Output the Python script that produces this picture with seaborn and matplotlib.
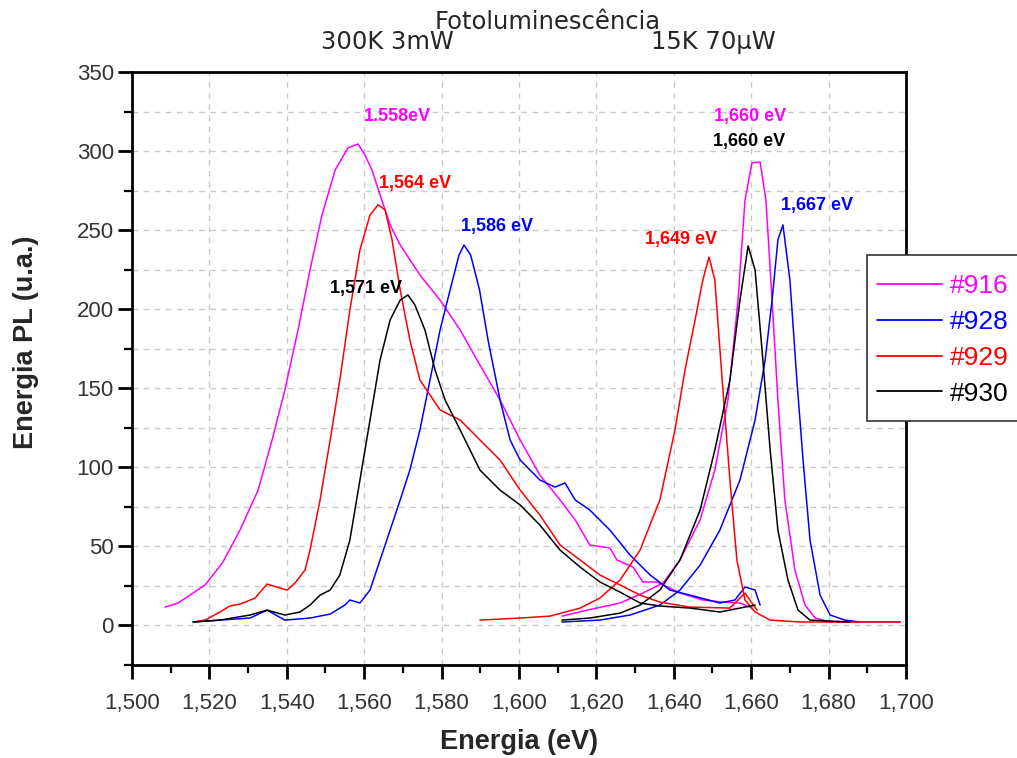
import numpy as np
import pandas as pd
import matplotlib
matplotlib.use("Agg")
import matplotlib.pyplot as plt
from matplotlib.lines import Line2D
from matplotlib.patches import Rectangle
from matplotlib.ticker import MultipleLocator, FuncFormatter
import seaborn as sns

# ---------------- data ----------------
samples = ["#916", "#928", "#929", "#930"]
colors = ["#ff00ff", "#0000ff", "#ff0000", "#000000"]

# 300 K, 3 mW
e916_300K = [1.5085, 1.5119, 1.5189, 1.5235, 1.5279, 1.5326, 1.5362, 1.5395, 1.5429, 1.5460, 1.5491,
             1.5525, 1.5558, 1.5584, 1.5602, 1.5620, 1.5641, 1.5667, 1.5693, 1.5744, 1.5796, 1.5848,
             1.5899, 1.5951, 1.6003, 1.6054, 1.6106, 1.6145, 1.6183, 1.6235, 1.6253, 1.6295, 1.6320,
             1.6357, 1.6416, 1.6475, 1.6527, 1.6571, 1.6602]
i916_300K = [11.6, 14.2, 25.6, 40.1, 60.3, 85.6, 117.3, 148.9, 186.8, 224.8, 259.6,
             288.1, 302.0, 304.5, 297.5, 288.1, 272.3, 253.3, 240.6, 221.6, 205.8, 186.8,
             164.7, 142.6, 117.3, 95.1, 79.4, 66.8, 50.9, 49.0, 41.4, 36.9, 27.5,
             27.5, 20.5, 16.1, 14.8, 14.2, 11.0]

e928_300K = [1.5158, 1.5227, 1.5305, 1.5349, 1.5395, 1.5460, 1.5512, 1.5550, 1.5563, 1.5589, 1.5615,
             1.5641, 1.5667, 1.5693, 1.5718, 1.5744, 1.5770, 1.5796, 1.5822, 1.5845, 1.5858, 1.5875,
             1.5898, 1.5920, 1.5951, 1.5977, 1.6003, 1.6054, 1.6093, 1.6119, 1.6145, 1.6183, 1.6235,
             1.6287, 1.6339, 1.6390, 1.6442, 1.6519, 1.6558, 1.6584, 1.6610, 1.6623]
i928_300K = [2.2, 3.4, 4.7, 9.7, 3.4, 4.7, 7.2, 12.9, 16.1, 14.2, 22.4,
             41.4, 60.3, 79.4, 98.3, 123.6, 155.2, 186.8, 212.2, 234.3, 240.6, 234.3,
             212.2, 180.5, 142.6, 117.3, 104.6, 92.0, 87.5, 90.1, 79.4, 73.0, 60.3,
             44.5, 31.9, 22.4, 19.2, 14.2, 16.1, 24.3, 22.4, 12.9]

e929_300K = [1.5158, 1.5189, 1.5227, 1.5253, 1.5279, 1.5318, 1.5349, 1.5382, 1.5401, 1.5421, 1.5447,
             1.5460, 1.5486, 1.5512, 1.5537, 1.5563, 1.5589, 1.5615, 1.5636, 1.5654, 1.5672, 1.5693,
             1.5718, 1.5744, 1.5796, 1.5848, 1.5899, 1.5951, 1.6003, 1.6054, 1.6106, 1.6158, 1.6209,
             1.6261, 1.6313, 1.6364, 1.6442, 1.6545, 1.6584, 1.6615]
i929_300K = [2.2, 3.4, 8.5, 12.3, 13.5, 17.3, 26.2, 23.7, 22.4, 26.8, 35.0,
             47.7, 79.4, 117.3, 155.2, 199.5, 237.5, 259.6, 266.0, 262.8, 243.8, 212.2,
             180.5, 155.2, 136.3, 129.9, 117.3, 104.6, 85.6, 69.8, 50.9, 41.4, 31.9,
             25.6, 19.2, 14.8, 11.6, 11.0, 20.5, 9.7]

e930_300K = [1.5158, 1.5227, 1.5305, 1.5349, 1.5395, 1.5434, 1.5460, 1.5486, 1.5512, 1.5537, 1.5563,
             1.5589, 1.5615, 1.5641, 1.5667, 1.5693, 1.5713, 1.5731, 1.5757, 1.5783, 1.5809, 1.5848,
             1.5899, 1.5951, 1.6003, 1.6054, 1.6106, 1.6158, 1.6209, 1.6261, 1.6313, 1.6364, 1.6442,
             1.6519, 1.6571, 1.6610]
i930_300K = [2.2, 3.4, 6.6, 9.7, 6.6, 8.5, 12.9, 19.2, 22.4, 31.9, 54.0,
             92.0, 129.9, 167.9, 193.2, 205.8, 209.0, 202.7, 186.8, 161.6, 142.6, 123.6,
             98.3, 85.6, 76.2, 63.5, 47.7, 36.9, 27.5, 21.1, 14.2, 12.3, 11.0,
             8.5, 11.0, 12.9]

# 15 K, 70 uW
e916_15K = [1.6111, 1.6176, 1.6261, 1.6320, 1.6372, 1.6416, 1.6468, 1.6506, 1.6540, 1.6566, 1.6584,
            1.6602, 1.6623, 1.6638, 1.6654, 1.6669, 1.6687, 1.6713, 1.6739, 1.6765, 1.6804, 1.6985]
i916_15K = [5.9, 9.7, 14.2, 20.5, 26.8, 41.4, 66.8, 98.3, 142.6, 205.8, 269.1,
            292.5, 293.1, 269.1, 205.8, 142.6, 79.4, 35.0, 12.9, 4.7, 2.2, 2.2]

e928_15K = [1.6111, 1.6209, 1.6287, 1.6364, 1.6416, 1.6468, 1.6519, 1.6571, 1.6610, 1.6636, 1.6654,
            1.6669, 1.6682, 1.6700, 1.6718, 1.6734, 1.6752, 1.6778, 1.6804, 1.6842, 1.6881]
i928_15K = [2.2, 3.4, 6.6, 12.9, 22.4, 38.2, 60.3, 92.0, 129.9, 167.9, 205.8,
            243.8, 253.3, 218.5, 155.2, 104.6, 54.0, 19.2, 6.6, 3.4, 2.2]

e929_15K = [1.5899, 1.6003, 1.6080, 1.6158, 1.6209, 1.6261, 1.6313, 1.6364, 1.6403, 1.6429, 1.6455,
            1.6475, 1.6491, 1.6506, 1.6525, 1.6545, 1.6563, 1.6584, 1.6610, 1.6649, 1.6726, 1.6985]
i929_15K = [3.4, 4.7, 5.9, 11.0, 17.3, 28.7, 47.7, 79.4, 123.6, 161.6, 193.2,
            218.5, 233.0, 218.5, 155.2, 92.0, 41.4, 16.1, 8.5, 3.4, 2.2, 2.2]

e930_15K = [1.6111, 1.6183, 1.6261, 1.6313, 1.6364, 1.6416, 1.6468, 1.6506, 1.6545, 1.6571, 1.6592,
            1.6610, 1.6628, 1.6649, 1.6669, 1.6695, 1.6721, 1.6752, 1.6855]
i930_15K = [3.4, 4.7, 7.8, 12.9, 22.4, 41.4, 73.0, 110.9, 155.2, 205.8, 240.0,
            224.8, 174.2, 110.9, 60.3, 28.7, 9.7, 3.4, 2.2]

peak_labels = ["1.558eV", "1,564 eV", "1,586 eV", "1,571 eV",
               "1,660 eV", "1,660 eV", "1,667 eV", "1,649 eV"]

x_ticks = [1.50, 1.52, 1.54, 1.56, 1.58, 1.60, 1.62, 1.64, 1.66, 1.68, 1.70]
y_ticks = [0, 50, 100, 150, 200, 250, 300, 350]

# ---------------- build long table ----------------
segments = [
    ("#916", "300K", e916_300K, i916_300K), ("#916", "15K", e916_15K, i916_15K),
    ("#928", "300K", e928_300K, i928_300K), ("#928", "15K", e928_15K, i928_15K),
    ("#929", "300K", e929_300K, i929_300K), ("#929", "15K", e929_15K, i929_15K),
    ("#930", "300K", e930_300K, i930_300K), ("#930", "15K", e930_15K, i930_15K),
]
frames = []
for s, t, e, i in segments:
    frames.append(pd.DataFrame({"E": e, "I": i, "amostra": s, "seg": s + "_" + t}))
df = pd.concat(frames, ignore_index=True)
palette = dict(zip(samples, colors))

# ---------------- style ----------------
sns.set_theme(style="white")
plt.rcParams["font.family"] = ["Liberation Sans", "DejaVu Sans"]

fig = plt.figure(figsize=(10.17, 7.58), dpi=100)
ax = fig.add_axes([132 / 1017, 1 - 665 / 758, 774 / 1017, 593 / 758])

sns.lineplot(data=df, x="E", y="I", hue="amostra", units="seg", estimator=None,
             sort=False, palette=palette, linewidth=1.1, legend=False, ax=ax)

ax.set_xlim(1.50, 1.70)
ax.set_ylim(-25, 350)
ax.set_xticks(x_ticks)
ax.set_yticks(y_ticks)
ax.xaxis.set_minor_locator(MultipleLocator(0.01))
ax.yaxis.set_minor_locator(MultipleLocator(25))
ax.xaxis.set_major_formatter(FuncFormatter(lambda v, p: f"{v:.3f}".replace(".", ",")))

ax.xaxis.grid(True, which="major", color="#c8c8c8", linestyle=(0, (4, 4)), linewidth=1)
ax.yaxis.grid(True, which="both", color="#c8c8c8", linestyle=(0, (4, 4)), linewidth=1)
ax.set_axisbelow(True)

for sp in ax.spines.values():
    sp.set_visible(True)
    sp.set_color("black")
    sp.set_linewidth(2)

ax.tick_params(which="major", direction="out", length=10, width=2, color="black",
               labelsize=16, labelcolor="#333333", bottom=True, left=True, top=False, right=False)
ax.tick_params(which="minor", direction="out", length=6, width=1.6, color="black",
               bottom=True, left=True, top=False, right=False)
ax.tick_params(axis="x", which="major", pad=10)
ax.tick_params(axis="y", which="major", pad=3)

ax.set_xlabel("Energia (eV)", fontsize=19.5, fontweight="bold", va="center")
ax.set_ylabel("Energia PL (u.a.)", fontsize=19.5, fontweight="bold", va="center")
ax.xaxis.set_label_coords(0.5, (665 - 742) / 593)
ax.yaxis.set_label_coords((26 - 132) / 774, 0.545)

# titles
tfont = ["DejaVu Sans"]
fig.text(548 / 1017, 1 - 29 / 758, "Fotoluminescência", ha="center", va="baseline",
         fontsize=17.5, family=tfont)
fig.text(387 / 1017, 1 - 49 / 758, "300K 3mW", ha="center", va="baseline",
         fontsize=17.5, family=tfont)
fig.text(713 / 1017, 1 - 49 / 758, "15K 70\u03bcW", ha="center", va="baseline",
         fontsize=17.5, family=tfont)

# peak annotations
ann = [(1.5687, 321.6, 0), (1.5731, 279.8, 2), (1.5943, 252.0, 1), (1.5605, 213.4, 3),
       (1.6597, 321.6, 0), (1.6594, 305.8, 3), (1.6770, 265.3, 1), (1.6419, 243.8, 2)]
for (x, y, c), lab in zip(ann, peak_labels):
    ax.text(x, y, lab, color=colors[c], fontsize=13, fontweight="bold", ha="center", va="center")

# legend: frame drawn as a figure-level box, entries as a frameless figure legend
box = Rectangle((867 / 1017, 1 - 421 / 758), 170 / 1017, 166 / 758, transform=fig.transFigure,
                facecolor="white", edgecolor="#333333", linewidth=1.2, zorder=4)
fig.patches.append(box)
handles = [Line2D([0], [0], color=c, lw=1.3) for c in colors]
leg = fig.legend(handles, samples, loc="upper left", bbox_to_anchor=(877 / 1017, 1 - 274 / 758),
                 bbox_transform=fig.transFigure, borderaxespad=0, borderpad=0, frameon=False,
                 fontsize=19, handlelength=2.45, handletextpad=0.3, labelspacing=0.45,
                 labelcolor=colors)
leg.set_zorder(5)

fig.savefig("out.png", dpi=100)
